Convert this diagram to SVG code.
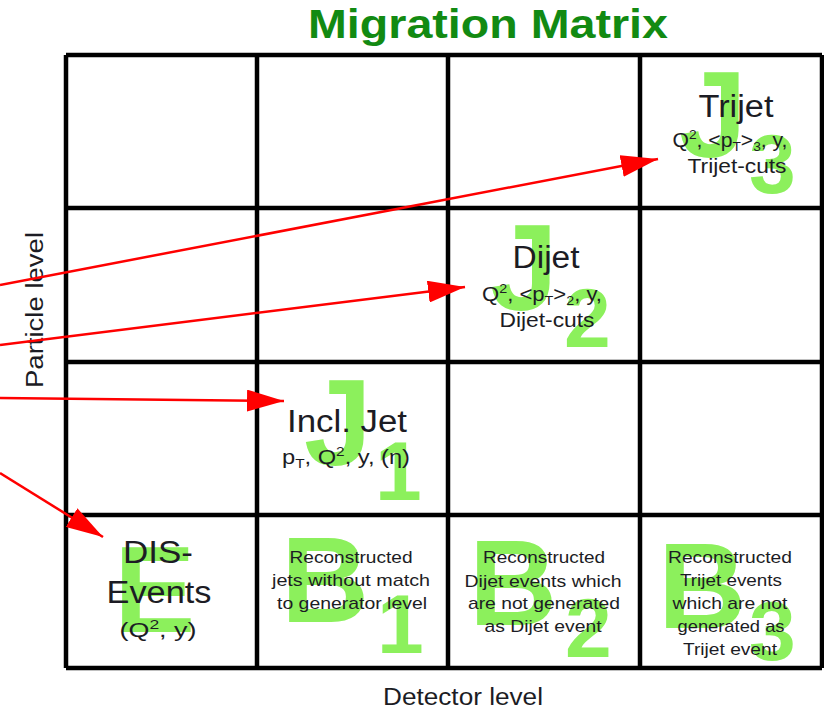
<svg xmlns="http://www.w3.org/2000/svg" width="824" height="712" viewBox="0 0 824 712">
<defs>
<style>
text{font-family:"Liberation Sans",Arial,sans-serif;fill:#1c1c24}
.big{font-weight:bold;font-size:122px;fill:#8cf05c}
.sub{font-weight:bold;font-size:84px;fill:#8cf05c}
.h{font-size:31px;text-anchor:middle}
.m{font-size:20px;text-anchor:middle}
.s{font-size:17px;text-anchor:middle}
.grid{stroke:#000;stroke-width:4.5;fill:none}
.arrow{stroke:#ff0000;stroke-width:2.5;fill:none;marker-end:url(#ah)}
</style>
<marker id="ah" markerUnits="userSpaceOnUse" markerWidth="38" markerHeight="22" refX="37" refY="11" orient="auto">
<path d="M0,0 L37,11 L0,22 Z" fill="#ff0000"/>
</marker>
</defs>
<rect width="824" height="712" fill="#fff"/>
<g id="title">
<text x="488" y="38" text-anchor="middle" font-weight="bold" font-size="40" textLength="360" lengthAdjust="spacingAndGlyphs" style="fill:#128a12">Migration Matrix</text>
</g>
<g id="grid">
<path class="grid" d="M66,55 H822 M66,208 H822 M66,362 H822 M66,515 H822 M66,668 H822 M66,55 V668 M257,55 V668 M448,55 V668 M640,55 V668 M822,55 V668"/>
</g>
<g id="axis-labels">
<text x="463" y="705" text-anchor="middle" font-size="23" textLength="160" lengthAdjust="spacingAndGlyphs">Detector level</text>
<text transform="translate(43,310) rotate(-90)" text-anchor="middle" font-size="23" textLength="156" lengthAdjust="spacingAndGlyphs">Particle  level</text>
</g>
<g id="trijet">
<text class="big" x="679" y="157">J</text>
<text class="sub" x="749" y="193">3</text>
<text class="h" x="736" y="117" textLength="75" lengthAdjust="spacingAndGlyphs">Trijet</text>
<text class="m" x="730" y="147" textLength="115" lengthAdjust="spacingAndGlyphs">Q<tspan font-size="13" dy="-8">2</tspan><tspan dy="8">, &lt;p</tspan><tspan font-size="13" dy="4">T</tspan><tspan dy="-4">&gt;</tspan><tspan font-size="13" dy="4">3</tspan><tspan dy="-4">, y,</tspan></text>
<text class="m" x="737" y="173" textLength="99" lengthAdjust="spacingAndGlyphs">Trijet-cuts</text>
</g>
<g id="dijet">
<text class="big" x="490" y="310">J</text>
<text class="sub" x="564" y="347">2</text>
<text class="h" x="546" y="268" textLength="67" lengthAdjust="spacingAndGlyphs">Dijet</text>
<text class="m" x="542" y="301" textLength="120" lengthAdjust="spacingAndGlyphs">Q<tspan font-size="13" dy="-8">2</tspan><tspan dy="8">, &lt;p</tspan><tspan font-size="13" dy="4">T</tspan><tspan dy="-4">&gt;</tspan><tspan font-size="13" dy="4">2</tspan><tspan dy="-4">, y,</tspan></text>
<text class="m" x="547" y="327" textLength="95" lengthAdjust="spacingAndGlyphs">Dijet-cuts</text>
</g>
<g id="incl-jet">
<text class="big" x="304" y="465">J</text>
<text class="sub" x="375" y="500">1</text>
<text class="h" x="347" y="432" textLength="120" lengthAdjust="spacingAndGlyphs">Incl. Jet</text>
<text class="m" x="346" y="464" textLength="128" lengthAdjust="spacingAndGlyphs">p<tspan font-size="13" dy="4">T</tspan><tspan dy="-4">, Q</tspan><tspan font-size="13" dy="-8">2</tspan><tspan dy="8">, y, (η)</tspan></text>
</g>
<g id="dis-events">
<text class="big" x="114" y="632">E</text>
<text class="h" x="158" y="563" textLength="70" lengthAdjust="spacingAndGlyphs">DIS-</text>
<text class="h" x="159" y="603" textLength="105" lengthAdjust="spacingAndGlyphs">Events</text>
<text class="m" x="158" y="637" textLength="77" lengthAdjust="spacingAndGlyphs">(Q<tspan font-size="13" dy="-8">2</tspan><tspan dy="8">, y)</tspan></text>
</g>
<g id="b1">
<text class="big" x="281" y="622">B</text>
<text class="sub" x="377" y="653">1</text>
<text class="s" x="351" y="563" textLength="123" lengthAdjust="spacingAndGlyphs">Reconstructed</text>
<text class="s" x="351" y="586" textLength="158" lengthAdjust="spacingAndGlyphs">jets without match</text>
<text class="s" x="352" y="609" textLength="150" lengthAdjust="spacingAndGlyphs">to generator level</text>
</g>
<g id="b2">
<text class="big" x="469" y="625">B</text>
<text class="sub" x="565" y="657">2</text>
<text class="s" x="544" y="563" textLength="122" lengthAdjust="spacingAndGlyphs">Reconstructed</text>
<text class="s" x="543" y="587" textLength="157" lengthAdjust="spacingAndGlyphs">Dijet events which</text>
<text class="s" x="544" y="609" textLength="152" lengthAdjust="spacingAndGlyphs">are not generated</text>
<text class="s" x="543" y="632" textLength="117" lengthAdjust="spacingAndGlyphs">as Dijet event</text>
</g>
<g id="b3">
<text class="big" x="658" y="628">B</text>
<text class="sub" x="749" y="660">3</text>
<text class="s" x="730" y="563" textLength="124" lengthAdjust="spacingAndGlyphs">Reconstructed</text>
<text class="s" x="731" y="586" textLength="102" lengthAdjust="spacingAndGlyphs">Trijet events</text>
<text class="s" x="730" y="609" textLength="115" lengthAdjust="spacingAndGlyphs">which are not</text>
<text class="s" x="731" y="632" textLength="107" lengthAdjust="spacingAndGlyphs">generated as</text>
<text class="s" x="730" y="655" textLength="94" lengthAdjust="spacingAndGlyphs">Trijet event</text>
</g>
<g id="connectors">
<line class="arrow" x1="0" y1="285" x2="658" y2="159"/>
<line class="arrow" x1="0" y1="345" x2="465" y2="287"/>
<line class="arrow" x1="0" y1="398" x2="284" y2="401"/>
<line class="arrow" x1="0" y1="473" x2="103" y2="537"/>
</g>
</svg>
